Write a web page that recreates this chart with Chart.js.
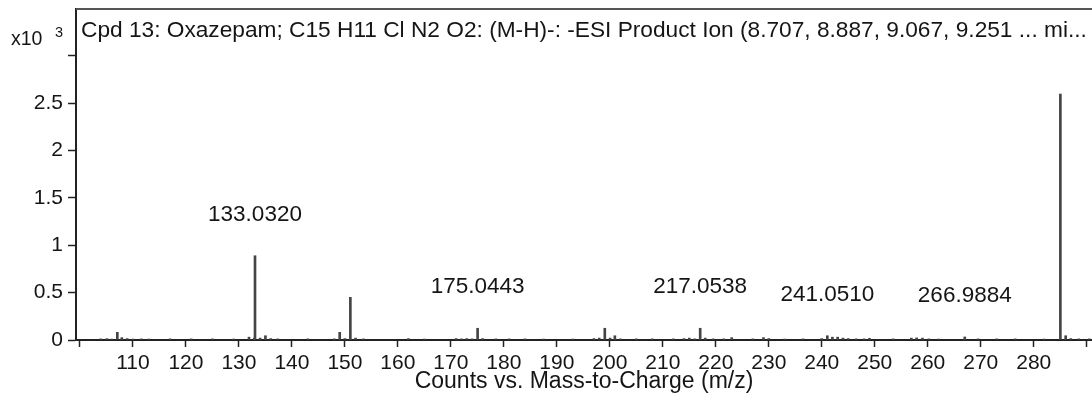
<!DOCTYPE html>
<html>
<head>
<meta charset="utf-8">
<script src="https://cdn.jsdelivr.net/npm/chart.js@4.4.1/dist/chart.umd.min.js"></script>
<style>
  html, body { margin: 0; padding: 0; background: #fff; }
  #wrap { width: 1092px; height: 395px; }
</style>
</head>
<body>
<div id="wrap"><canvas id="spec" width="1092" height="395"></canvas></div>
<script>
// Product ion spectrum: m/z positions and intensities (x10^3 counts)
const mzValues = [
  103.9, 105.1, 106.0, 107.05, 107.9, 108.9, 110.0, 111.6, 113.0, 117.0,
  121.0, 125.0, 129.0, 131.9, 132.9, 133.0320, 134.0, 135.0, 136.0, 137.3,
  143.0, 148.0, 149.02, 150.0, 151.03, 152.0, 153.5, 162.0, 165.0, 171.0,
  172.0, 173.0, 174.0, 175.0443, 176.0, 178.5, 181.0, 184.0, 187.5, 193.0,
  197.0, 198.0, 199.05, 200.05, 200.95, 202.0, 205.0, 208.0, 212.0, 214.0,
  215.0, 216.0, 217.0538, 218.0, 219.5, 221.5, 223.0, 227.0, 229.0, 230.0,
  233.0, 236.5, 240.0, 241.0510, 242.0, 243.0, 244.0, 245.0, 246.5, 248.0,
  249.0, 253.5, 256.9, 257.9, 259.0, 260.2, 262.0, 266.9884, 269.5, 273.0,
  276.5, 282.0, 285.03, 286.03, 287.0, 288.5, 290.5
];
const intensities = [
  0.012, 0.014, 0.010, 0.081, 0.025, 0.015, 0.010, 0.012, 0.010, 0.012,
  0.012, 0.012, 0.010, 0.030, 0.020, 0.890, 0.020, 0.045, 0.015, 0.012,
  0.012, 0.012, 0.081, 0.015, 0.451, 0.020, 0.012, 0.015, 0.010, 0.015,
  0.012, 0.015, 0.012, 0.124, 0.015, 0.012, 0.012, 0.012, 0.010, 0.010,
  0.015, 0.020, 0.124, 0.020, 0.045, 0.012, 0.012, 0.012, 0.012, 0.015,
  0.020, 0.012, 0.124, 0.020, 0.012, 0.012, 0.025, 0.012, 0.025, 0.015,
  0.010, 0.012, 0.015, 0.045, 0.030, 0.030, 0.020, 0.015, 0.012, 0.012,
  0.018, 0.012, 0.020, 0.022, 0.020, 0.012, 0.010, 0.032, 0.012, 0.012,
  0.012, 0.010, 2.598, 0.045, 0.015, 0.012, 0.012
];
// Peaks annotated with their m/z
const labeledMz = [133.0320, 175.0443, 217.0538, 241.0510, 266.9884];

const yTickValues = [0, 0.5, 1, 1.5, 2, 2.5, 3];
const yTickLabels = ['0', '0.5', '1', '1.5', '2', '2.5', ''];
const xTickValues = [100, 110, 120, 130, 140, 150, 160, 170, 180, 190, 200,
                     210, 220, 230, 240, 250, 260, 270, 280, 290];
const xTickLabels = ['', '110', '120', '130', '140', '150', '160', '170', '180', '190', '200',
                     '210', '220', '230', '240', '250', '260', '270', '280', ''];

const plotTitle = 'Cpd 13: Oxazepam; C15 H11 Cl N2 O2: (M-H)-: -ESI Product Ion (8.707, 8.887, 9.067, 9.251 ... mi...';
const xAxisTitle = 'Counts vs. Mass-to-Charge (m/z)';
const yScaleBase = 'x10';
const yScaleExp = '3';

const FONT = "'Liberation Sans', Arial, Helvetica, sans-serif";
Chart.defaults.font.family = FONT;
Chart.defaults.color = '#151515';

const points = mzValues.map((m, i) => ({ x: m, y: intensities[i] }));

// Frame top edge, in-plot title, y multiplier and peak annotations
const decorations = {
  id: 'decorations',
  afterDraw(chart) {
    const { ctx, chartArea } = chart;
    ctx.save();
    ctx.strokeStyle = '#555';
    ctx.lineWidth = 2;
    ctx.beginPath();
    ctx.moveTo(chartArea.left, chartArea.top);
    ctx.lineTo(chart.width, chartArea.top);
    ctx.stroke();

    ctx.fillStyle = '#151515';
    ctx.textBaseline = 'alphabetic';
    ctx.textAlign = 'left';
    ctx.font = '22.7px ' + FONT;
    ctx.fillText(plotTitle, 81, 37);

    ctx.font = '19.5px ' + FONT;
    ctx.fillText(yScaleBase, 11, 45);
    ctx.font = '14.5px ' + FONT;
    ctx.fillText(yScaleExp, 55, 37);

    const meta = chart.getDatasetMeta(0);
    ctx.font = '22.5px ' + FONT;
    ctx.textAlign = 'center';
    ctx.textBaseline = 'middle';
    labeledMz.forEach(m => {
      const idx = mzValues.indexOf(m);
      const el = meta.data[idx];
      ctx.fillText(m.toFixed(4), el.x, el.y - 41);
    });
    ctx.restore();
  }
};

new Chart(document.getElementById('spec'), {
  type: 'bar',
  data: {
    datasets: [{
      data: points,
      backgroundColor: '#454545',
      borderWidth: 0,
      barThickness: 2,
      grouped: false
    }]
  },
  options: {
    responsive: false,
    animation: false,
    devicePixelRatio: 1,
    layout: { padding: { left: 0, right: 0, top: 9, bottom: 0 } },
    plugins: { legend: { display: false }, tooltip: { enabled: false }, title: { display: false } },
    scales: {
      x: {
        type: 'linear',
        offset: false,
        min: 99.25,
        max: 291.0,
        afterBuildTicks: s => { s.ticks = xTickValues.map(v => ({ value: v })); },
        afterFit: s => { s.height = 55; s.paddingLeft = 0; s.paddingRight = 0; },
        ticks: {
          autoSkip: false, maxRotation: 0, padding: 4,
          font: { size: 21 }, color: '#151515',
          callback: (v, i) => xTickLabels[i]
        },
        grid: { display: true, offset: false, drawOnChartArea: false, drawTicks: true, tickLength: 7, tickWidth: 1.5, tickColor: '#222' },
        border: { display: true, color: '#222', width: 2 },
        title: { display: true, text: xAxisTitle, font: { size: 23 }, color: '#151515', padding: { top: 0, bottom: 0 } }
      },
      y: {
        type: 'linear',
        min: 0,
        max: 3.496,
        afterBuildTicks: s => { s.ticks = yTickValues.map(v => ({ value: v })); },
        afterFit: s => { s.width = 76; s.paddingTop = 0; s.paddingBottom = 0; },
        ticks: {
          padding: 5, font: { size: 21 }, color: '#151515',
          callback: (v, i) => yTickLabels[i]
        },
        grid: { display: true, drawOnChartArea: false, drawTicks: true, tickLength: 8, tickWidth: 1.5, tickColor: '#222' },
        border: { display: true, color: '#222', width: 2 }
      }
    }
  },
  plugins: [decorations]
});
</script>
</body>
</html>
